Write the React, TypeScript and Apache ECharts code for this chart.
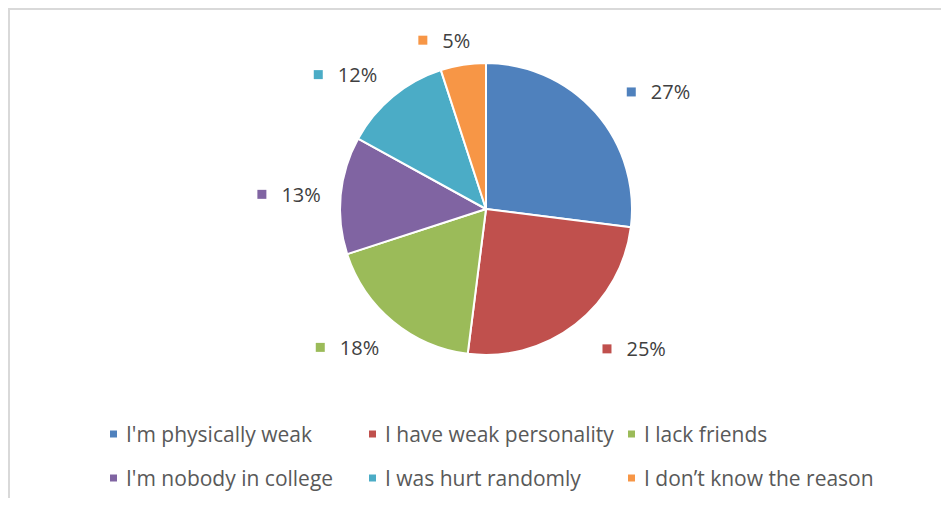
import React, { useEffect, useRef } from "react";
import * as echarts from "echarts";

const categories = [
  "I'm physically weak",
  "I have weak personality",
  "I lack friends",
  "I'm nobody in college",
  "I was hurt randomly",
  "I don\u2019t know the reason",
];
const values = [27, 25, 18, 13, 12, 5];
const colors = ["#4F81BD", "#C0504D", "#9BBB59", "#8064A2", "#4BACC6", "#F79646"];

const FONT = "'Open Sans', 'Noto Sans', sans-serif";

export default function App() {
  const ref = useRef<HTMLDivElement>(null);
  useEffect(() => {
    if (!ref.current) return;
    const chart = echarts.init(ref.current, undefined, { renderer: "svg" });
    const legendCols = [
      [categories[0], categories[3]],
      [categories[1], categories[4]],
      [categories[2], categories[5]],
    ];
    const legendLefts = [98, 357, 616];
    chart.setOption({
      animation: false,
      color: colors,
      legend: legendCols.map((col, i) => ({
        data: col,
        orient: "vertical",
        left: legendLefts[i],
        top: 412,
        height: 120,
        padding: 0,
        icon: "rect",
        itemWidth: 9,
        itemHeight: 9,
        itemGap: 20,
        selectedMode: false,
        textStyle: {
          color: "#595959",
          fontSize: 21,
          lineHeight: 24,
          fontFamily: FONT,
          padding: [0, 0, 0, 3],
        },
      })),
      series: [
        {
          type: "pie",
          center: [476, 199],
          radius: 146,
          startAngle: 90,
          clockwise: true,
          avoidLabelOverlap: false,
          itemStyle: { borderColor: "#ffffff", borderWidth: 2 },
          label: {
            show: true,
            position: "outside",
            fontFamily: FONT,
            fontSize: 20,
            color: "#404040",
          },
          labelLine: { show: false, length: 31, length2: 3 },
          labelLayout: (p: any) => {
            const left = p.labelRect.x + p.labelRect.width / 2 < 476;
            if (!left) return {};
            if (p.dataIndex === 5) return { dx: 20, dy: 6 };
            if (p.dataIndex === 4) return { dx: 12, dy: 2 };
            if (p.dataIndex === 3) return { dx: 19, dy: 2 };
            return { dx: 14, dy: 2 };
          },
          data: categories.map((name, i) => ({
            name,
            value: values[i],
            label: {
              formatter: "{m|}{t|" + values[i] + "%}",
              rich: {
                m: { width: 9, height: 9, backgroundColor: colors[i] },
                t: {
                  fontFamily: FONT,
                  fontSize: 20,
                  color: "#404040",
                  padding: [0, 0, 0, 15],
                },
              },
            },
          })),
        },
      ],
    });
    return () => chart.dispose();
  }, []);
  return (
    <div
      style={{
        width: 941,
        height: 490,
        borderTop: "2px solid #d9d9d9",
        borderLeft: "2px solid #d9d9d9",
        boxSizing: "border-box",
        position: "relative",
        overflow: "hidden",
        background: "#fff",
      }}
    >
      <div ref={ref} style={{ position: "absolute", left: 0, top: 0, width: 939, height: 560 }} />
    </div>
  );
}
